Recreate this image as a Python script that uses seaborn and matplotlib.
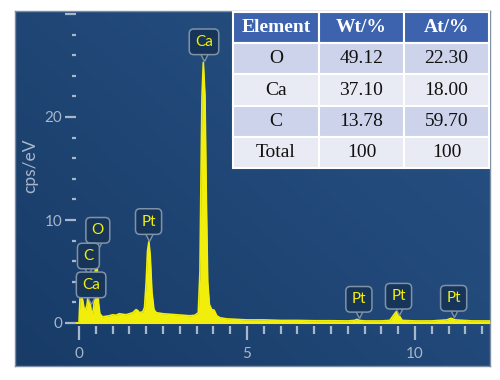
"""EDS spectrum with composition table."""

import numpy as np
import matplotlib
matplotlib.use("Agg")
import matplotlib.pyplot as plt
import seaborn as sns
import pandas as pd

# spectrum (keV, cps/eV)
energy = [0.00, 0.03, 0.07, 0.11, 0.15, 0.19, 0.24, 0.28, 0.32, 0.36, 0.41,
          0.46, 0.50, 0.54, 0.58, 0.62, 0.70, 0.80, 0.90, 1.00, 1.10, 1.20,
          1.30, 1.40, 1.50, 1.60, 1.70, 1.75, 1.80, 1.90, 1.95, 2.00, 2.04,
          2.08, 2.12, 2.17, 2.23, 2.30, 2.50, 2.70, 2.90, 3.10, 3.30, 3.45,
          3.55, 3.60, 3.63, 3.66, 3.70, 3.75, 3.79, 3.83, 3.88, 3.95, 4.02,
          4.10, 4.20, 4.40, 4.70, 5.00, 5.50, 6.00, 6.50, 7.00, 7.50, 8.00,
          8.20, 8.27, 8.35, 8.50, 9.00, 9.25, 9.35, 9.44, 9.53, 9.62, 10.00,
          10.50, 10.95, 11.07, 11.20, 11.70, 12.23]
counts = [0.0, 2.4, 2.6, 2.2, 1.4, 1.2, 1.8, 2.9, 2.3, 1.2, 0.9,
          2.2, 6.8, 5.5, 2.0, 0.9, 0.6, 0.65, 0.7, 0.8, 0.75, 0.9,
          0.85, 0.8, 0.9, 1.0, 1.3, 1.2, 1.0, 1.1, 1.5, 4.0, 7.0,
          7.9, 6.5, 3.0, 1.3, 1.0, 0.9, 0.85, 0.8, 0.75, 0.7, 0.75,
          1.0, 5.0, 14.0, 22.0, 25.3, 22.0, 12.0, 4.0, 1.8, 1.3, 1.25,
          0.7, 0.5, 0.4, 0.35, 0.3, 0.3, 0.25, 0.25, 0.22, 0.22, 0.2,
          0.25, 0.35, 0.25, 0.2, 0.2, 0.25, 0.7, 1.1, 0.7, 0.25, 0.2,
          0.2, 0.3, 0.45, 0.3, 0.2, 0.2]

# peak markers: label, x (keV), y (box centre, cps/eV)
peak_labels = ["Ca", "Pt", "O", "C", "Ca", "Pt", "Pt", "Pt"]
peak_x = [3.72, 2.07, 0.56, 0.28, 0.36, 8.33, 9.51, 11.15]
peak_y = [27.3, 9.85, 9.0, 6.5, 3.7, 2.3, 2.6, 2.4]

# composition table
elements = ["O", "Ca", "C", "Total"]
wt_pct = ["49.12", "37.10", "13.78", "100"]
at_pct = ["22.30", "18.00", "59.70", "100"]
table_header = ["Element", "Wt/%", "At/%"]

W, H = 500, 380
TICK = "#a7b6c9"
YELLOW = "#f2ee0c"
BOX_FC = "#173559"
BOX_EC = "#8092a8"

sns.set_style("white")
plt.rcParams["font.family"] = ["Lato", "DejaVu Sans"]

fig = plt.figure(figsize=(5, 3.8), dpi=100, facecolor="white")

# navy panel with a soft gradient
panel = fig.add_axes([15 / W, 1 - 366 / H, 475 / W, 355 / H])
gx, gy = np.meshgrid(np.linspace(0, 1, 200), np.linspace(0, 1, 200))
grad = 0.55 * gx + 0.45 * gy
cmap = matplotlib.colors.LinearSegmentedColormap.from_list(
    "bg", ["#183b67", "#285386"])
panel.imshow(grad, cmap=cmap, origin="lower", aspect="auto",
             extent=[0, 1, 0, 1])
panel.set_xticks([])
panel.set_yticks([])
for s in panel.spines.values():
    s.set_color("#7d8ea3")
    s.set_linewidth(1)

# spectrum axes: x=0 at px 79, y=0 at px 323
px_per_kev = 33.6
px_per_cps = 10.3
left_px, bottom_px, right_px, top_px = 76, 326, 490, 11
ax = fig.add_axes([left_px / W, 1 - bottom_px / H,
                   (right_px - left_px) / W, (bottom_px - top_px) / H])
ax.patch.set_alpha(0)
ax.set_xlim(-(79 - left_px) / px_per_kev, (right_px - 79) / px_per_kev)
ax.set_ylim(-(bottom_px - 323) / px_per_cps, (323 - top_px) / px_per_cps)

df = pd.DataFrame({"energy": energy, "counts": counts})
ax.fill_between(df["energy"], 0, df["counts"], color=YELLOW, lw=0, zorder=2)
sns.lineplot(data=df, x="energy", y="counts", ax=ax, color=YELLOW, lw=1.2,
             zorder=3)
ax.axhline(0, color=YELLOW, lw=1.5, zorder=3)

for s in ax.spines.values():
    s.set_visible(False)

ax.set_xticks([0, 5, 10])
ax.set_xticks(np.arange(0, 12.3, 0.5), minor=True)
ax.set_yticks([0, 10, 20, 30])
ax.set_yticks(np.arange(0, 30.5, 2), minor=True)
ax.set_yticklabels(["0", "10", "20", ""])
ax.tick_params(which="both", bottom=True, left=True, top=False, right=False)
ax.tick_params(axis="x", which="major", direction="out", length=10, width=1.6,
               color=TICK, labelcolor=TICK, labelsize=11, pad=5)
ax.tick_params(axis="x", which="minor", direction="out", length=5.5,
               width=1.6, color=TICK)
ax.tick_params(axis="y", which="major", direction="out", length=8, width=1.6,
               color=TICK, labelcolor=TICK, labelsize=11, pad=2)
ax.tick_params(axis="y", which="minor", direction="out", length=3.2,
               width=1.6, color=TICK)
ax.set_xlabel("")
ax.set_ylabel("")
fig.text(30 / W, 1 - 166 / H, "cps/eV", rotation=90, color=TICK,
         fontsize=12.5, ha="center", va="center")

# peak label boxes with pointers
box_half = 12 / px_per_cps
for lab, x, y in zip(peak_labels, peak_x, peak_y):
    ax.text(x, y, lab, ha="center", va="center", color=YELLOW, fontsize=11,
            zorder=6,
            bbox=dict(boxstyle="round,pad=0.38,rounding_size=0.3",
                      fc=BOX_FC, ec=BOX_EC, lw=1.1))
    ax.plot([x], [y - box_half - 2.0 / px_per_cps], marker="v", ms=7.5,
            mfc=BOX_FC, mec=BOX_EC, mew=1.0, zorder=5)

# composition table
tax = fig.add_axes([233 / W, 1 - 168 / H, 256 / W, 156 / H])
tax.axis("off")
cells = [[e, w, a] for e, w, a in zip(elements, wt_pct, at_pct)]
tbl = tax.table(cellText=cells, colLabels=table_header, cellLoc="center",
                bbox=[0, 0, 1, 1], colWidths=[86, 85, 85])
tbl.auto_set_font_size(False)
row_fill = ["#cdd3ea", "#e8eaf4", "#cdd3ea", "#e8eaf4"]
for (r, c), cell in tbl.get_celld().items():
    cell.set_edgecolor("white")
    cell.set_linewidth(1.5)
    txt = cell.get_text()
    txt.set_fontfamily("Liberation Serif")
    txt.set_fontsize(14)
    if r == 0:
        cell.set_facecolor("#3d62ae")
        txt.set_color("white")
        txt.set_fontweight("bold")
    else:
        cell.set_facecolor(row_fill[r - 1])
        txt.set_color("#111111")

fig.savefig("out.png", dpi=100, facecolor="white")
